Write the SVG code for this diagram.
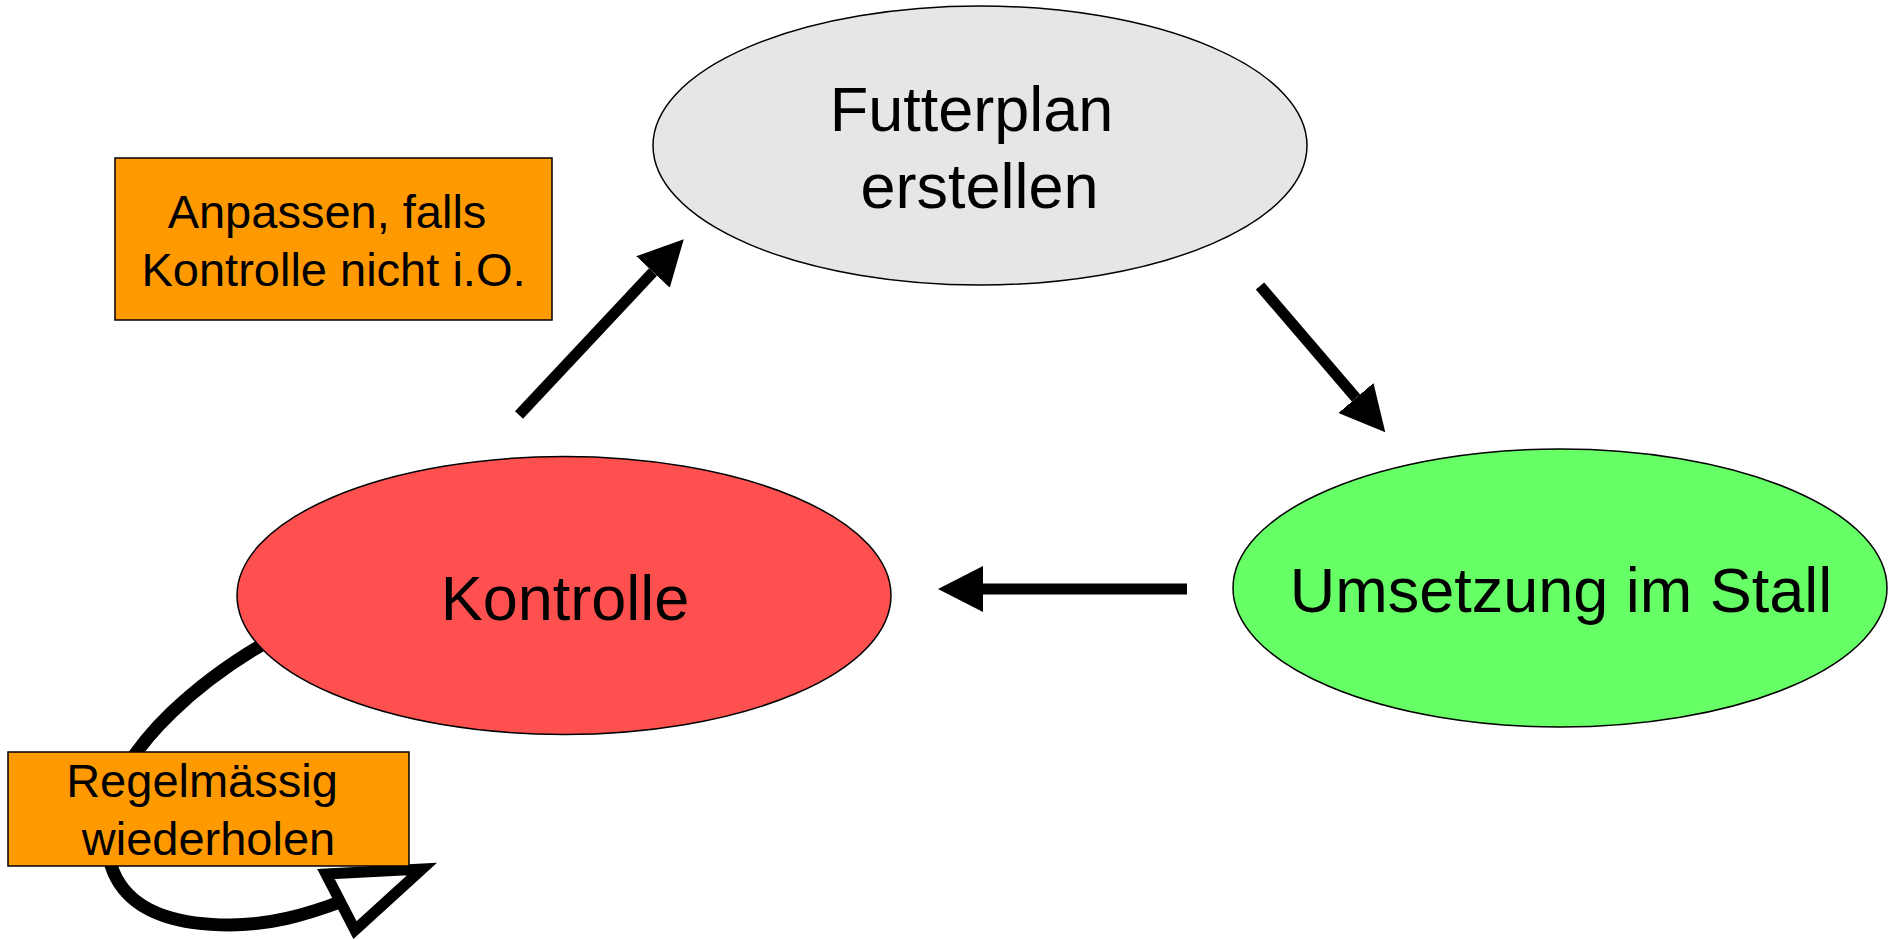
<svg xmlns="http://www.w3.org/2000/svg" width="1894" height="940" viewBox="0 0 1894 940">
<defs>
<style>
.ell{stroke:#000;stroke-width:1.5}
.box{fill:#ff9900;stroke:#000;stroke-width:1.5}
.big{font-family:"Liberation Sans",Arial,sans-serif;font-size:63px;fill:#000;text-anchor:middle}
.small{font-family:"Liberation Sans",Arial,sans-serif;font-size:47px;fill:#000;text-anchor:middle}
.shaft{stroke:#000;stroke-width:11;fill:none}
</style>
<marker id="head" markerUnits="userSpaceOnUse" markerWidth="46" markerHeight="46" refX="0" refY="23" orient="auto" viewBox="0 0 46 46">
<path d="M0,0 L45,23 L0,46 z" fill="#000"/>
</marker>
</defs>
<rect width="1894" height="940" fill="#fff"/>
<g id="connectors">
<line class="shaft" x1="519" y1="415" x2="653" y2="272" marker-end="url(#head)"/>
<line class="shaft" x1="1260" y1="286" x2="1356" y2="398" marker-end="url(#head)"/>
<line class="shaft" x1="1187" y1="589" x2="983" y2="589" marker-end="url(#head)"/>
<path d="M270,640 C200,680 130,740 112,800 C95,870 120,925 230,925 C270,925 305,915 340,902" stroke="#000" stroke-width="13" fill="none"/>
<polygon points="326,874 422,869 355,930" fill="#fff" stroke="#000" stroke-width="11" stroke-linejoin="miter"/>
</g>
<g id="node-futterplan">
<ellipse class="ell" cx="980" cy="145.5" rx="327" ry="139.5" fill="#e6e6e6"/>
<text class="big" x="971.5" y="131">Futterplan</text>
<text class="big" x="979.5" y="208">erstellen</text>
</g>
<g id="node-umsetzung">
<ellipse class="ell" cx="1560" cy="588" rx="327" ry="139" fill="#66ff66"/>
<text class="big" x="1561" y="612">Umsetzung im Stall</text>
</g>
<g id="node-kontrolle">
<ellipse class="ell" cx="564" cy="595.5" rx="327" ry="139" fill="#ff5050"/>
<text class="big" x="565" y="620">Kontrolle</text>
</g>
<g id="note-anpassen">
<rect class="box" x="115" y="158" width="437" height="162"/>
<text class="small" x="327" y="228">Anpassen, falls</text>
<text class="small" x="333.5" y="286">Kontrolle nicht i.O.</text>
</g>
<g id="note-regelmaessig">
<rect class="box" x="8" y="752" width="401" height="114"/>
<text class="small" x="202" y="797">Regelmässig</text>
<text class="small" x="208.5" y="855">wiederholen</text>
</g>
</svg>
